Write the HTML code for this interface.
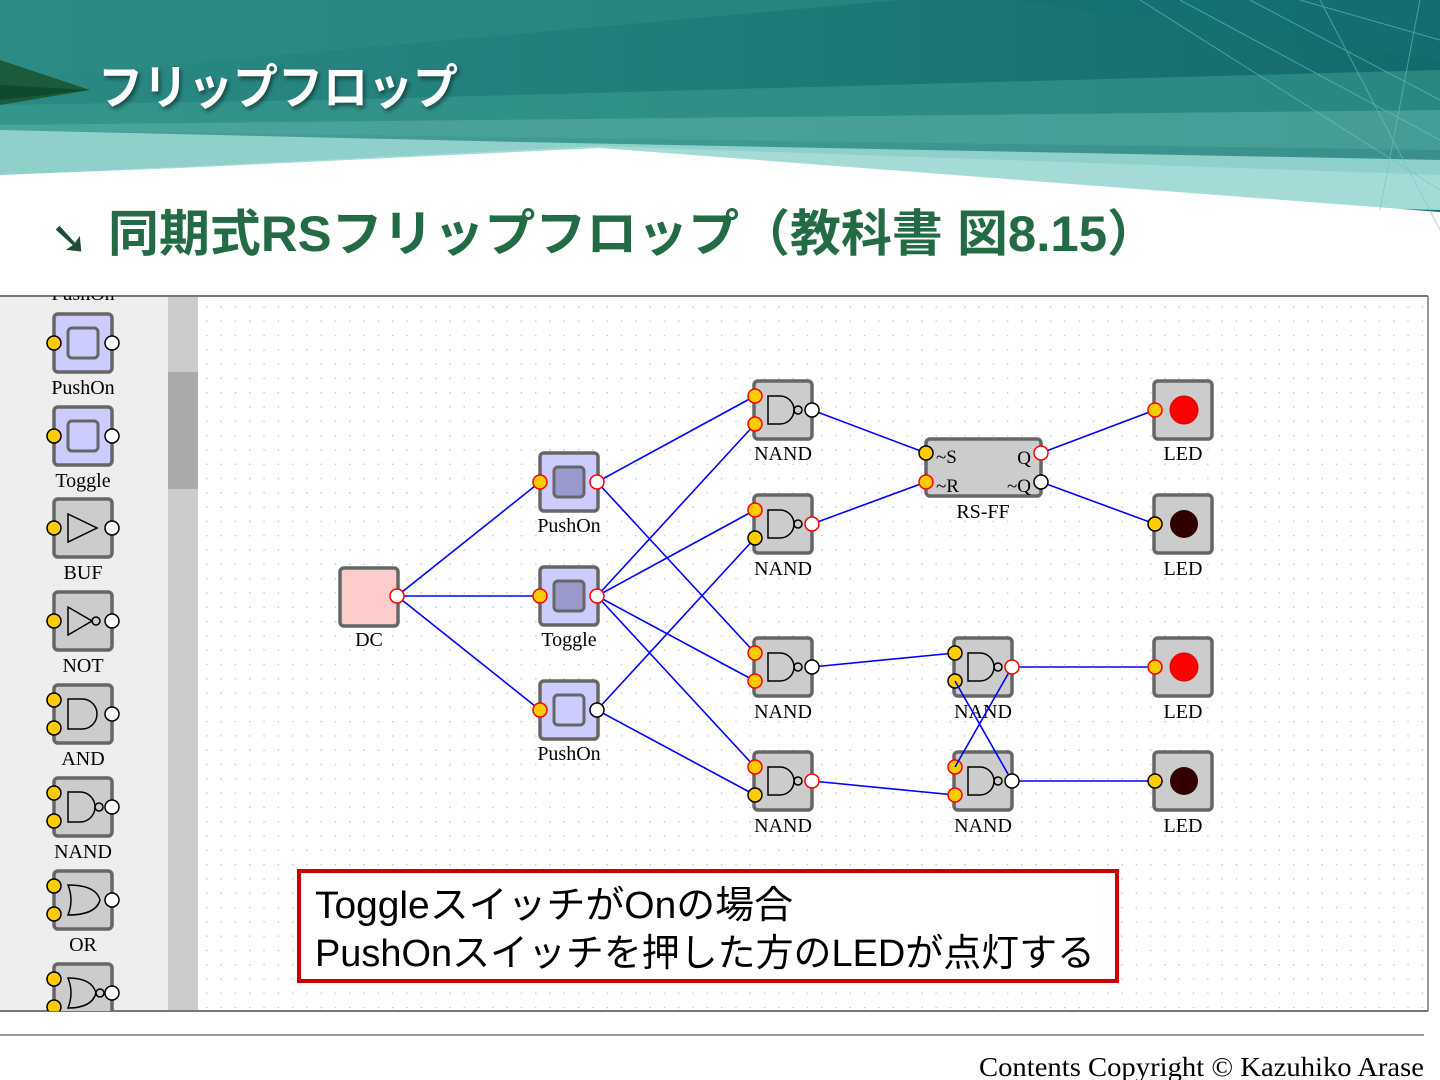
<!DOCTYPE html>
<html><head><meta charset="utf-8">
<style>
html,body{margin:0;padding:0;background:#fff;}
body{width:1440px;height:1080px;overflow:hidden;position:relative;}
svg text{font-family:"Liberation Serif",serif;}
.lbl{font-size:20px;text-anchor:middle;fill:#000;}
.box{fill:#ccc;stroke:#666;stroke-width:3.5;}
.sw{fill:#ccf;stroke:#666;stroke-width:3.5;}
.in{fill:#fc0;stroke:#000;stroke-width:1.5;}
.inr{fill:#fc0;stroke:#f00;stroke-width:1.5;}
.out{fill:#fff;stroke:#000;stroke-width:1.5;}
.outr{fill:#fff;stroke:#f00;stroke-width:1.5;}
.g{fill:none;stroke:#000;stroke-width:1.5;}
.w{stroke:#00f;stroke-width:1.6;fill:none;}
circle.in,circle.inr,circle.out,circle.outr{r:7px;}
</style></head><body>
<svg width="1440" height="1080" viewBox="0 0 1440 1080" xmlns="http://www.w3.org/2000/svg" style="position:absolute;left:0;top:0">
<defs>
<pattern id="dots" x="0" y="0" width="14.3" height="14.3" patternUnits="userSpaceOnUse">
<rect x="6" y="6" width="1.3" height="1.3" fill="#bbb"/>
</pattern>
<linearGradient id="hg" x1="0" y1="0" x2="1" y2="0">
<stop offset="0" stop-color="#2c8a84"/><stop offset="0.5" stop-color="#1f7c78"/><stop offset="1" stop-color="#136a6c"/>
</linearGradient>
</defs>
<rect x="0" y="0" width="1440" height="215" fill="url(#hg)"/>
<polygon points="0,0 900,0 0,80" fill="#2d8c86" opacity="0.6"/>
<polygon points="560,0 1010,0 1440,60 1440,0" fill="#137072" opacity="0.5"/>
<polygon points="0,105 330,100 1440,70 1440,150 0,130" fill="#3d9e92" opacity="0.55"/>
<polygon points="0,125 1440,110 1440,175 0,175" fill="#5fb3ab" opacity="0.5"/>
<polygon points="0,130 520,142 1440,160 1440,200 0,175" fill="#8fd0ca"/>
<polygon points="0,175 200,166 600,146 1440,175 1440,210" fill="#a4dbd7"/>
<polygon points="0,175 180,168 600,148 1440,212 1440,300 0,300" fill="#fff"/>
<polygon points="0,60 90,90 0,105" fill="#1c5a3c"/>
<polygon points="0,85 90,90 0,100" fill="#0f4a2c"/>
<g stroke="#6ec4c0" stroke-width="1" opacity="0.6">
<line x1="1140" y1="0" x2="1440" y2="190"/><line x1="1180" y1="0" x2="1440" y2="140"/>
<line x1="1250" y1="0" x2="1440" y2="100"/><line x1="1320" y1="0" x2="1440" y2="230"/>
<line x1="1420" y1="0" x2="1380" y2="210"/><line x1="1440" y1="40" x2="1300" y2="0"/>
</g>
<text x="98" y="104" font-size="48" font-weight="bold" fill="#fff" textLength="360" lengthAdjust="spacingAndGlyphs" style="font-family:'Noto Sans CJK JP',sans-serif;filter:drop-shadow(2px 3px 2px rgba(0,0,0,.45))">フリップフロップ</text>
<text x="50" y="254" font-size="46" font-weight="bold" fill="#1e4d35" style="font-family:'DejaVu Sans',sans-serif">➘</text>
<text x="108" y="251" font-size="50" font-weight="bold" fill="#236b45" style="font-family:'Liberation Sans','Noto Sans CJK JP',sans-serif" textLength="1050" lengthAdjust="spacingAndGlyphs">同期式RSフリップフロップ（教科書 図8.15）</text>

<rect x="0" y="296" width="1428" height="715" fill="#fff"/>
<rect x="198" y="296" width="1230" height="715" fill="url(#dots)"/>
<rect x="0" y="296" width="168" height="715" fill="#eee"/>
<rect x="168" y="296" width="30" height="715" fill="#ccc"/>
<rect x="168" y="372" width="30" height="117" fill="#aaa"/>
<line x1="0" y1="296" x2="1428" y2="296" stroke="#777" stroke-width="2"/>
<line x1="0" y1="1011" x2="1428" y2="1011" stroke="#777" stroke-width="2"/>
<line x1="1428" y1="296" x2="1428" y2="1011" stroke="#777" stroke-width="1.5"/>

<svg x="0" y="296" width="168" height="715" overflow="hidden">
<g transform="translate(0,-296)">
<text class="lbl" x="83" y="300">PushOn</text>
<rect class="sw" x="54" y="314" width="58" height="58" rx="4"/><rect x="68" y="328" width="30" height="30" rx="4" fill="#ccf" stroke="#666" stroke-width="3"/>
<circle class="in" cx="54" cy="343" r="7"/><circle class="out" cx="112" cy="343" r="7"/>
<text class="lbl" x="83" y="394">PushOn</text>
<rect class="sw" x="54" y="407" width="58" height="58" rx="4"/><rect x="68" y="421" width="30" height="30" rx="4" fill="#ccf" stroke="#666" stroke-width="3"/>
<circle class="in" cx="54" cy="436" r="7"/><circle class="out" cx="112" cy="436" r="7"/>
<text class="lbl" x="83" y="487">Toggle</text>
<rect class="box" x="54" y="499" width="58" height="58" rx="4"/><path class="g" d="M68,514 L97,528 L68,542 Z"/>
<circle class="in" cx="54" cy="528" r="7"/><circle class="out" cx="112" cy="528" r="7"/>
<text class="lbl" x="83" y="579">BUF</text>
<rect class="box" x="54" y="592" width="58" height="58" rx="4"/><path class="g" d="M68,607 L92,621 L68,635 Z"/><circle class="g" cx="96" cy="621" r="4"/>
<circle class="in" cx="54" cy="621" r="7"/><circle class="out" cx="112" cy="621" r="7"/>
<text class="lbl" x="83" y="672">NOT</text>
<rect class="box" x="54" y="685" width="58" height="58" rx="4"/><path class="g" d="M68,699 h14 a15,15 0 0 1 0,30 h-14 z"/>
<circle class="in" cx="54" cy="700" r="7"/><circle class="in" cx="54" cy="728" r="7"/><circle class="out" cx="112" cy="714" r="7"/>
<text class="lbl" x="83" y="765">AND</text>
<rect class="box" x="54" y="778" width="58" height="58" rx="4"/><path class="g" d="M68,792 h12 a15,15 0 0 1 0,30 h-12 z"/><circle class="g" cx="99" cy="807" r="4"/>
<circle class="in" cx="54" cy="793" r="7"/><circle class="in" cx="54" cy="821" r="7"/><circle class="out" cx="112" cy="807" r="7"/>
<text class="lbl" x="83" y="858">NAND</text>
<rect class="box" x="54" y="871" width="58" height="58" rx="4"/><path class="g" d="M68,885 q28,0 32,15 q-4,15 -32,15 q6,-15 0,-30 z"/>
<circle class="in" cx="54" cy="886" r="7"/><circle class="in" cx="54" cy="914" r="7"/><circle class="out" cx="112" cy="900" r="7"/>
<text class="lbl" x="83" y="951">OR</text>
<rect class="box" x="54" y="964" width="58" height="58" rx="4"/><path class="g" d="M68,978 q24,0 28,15 q-4,15 -28,15 q6,-15 0,-30 z"/><circle class="g" cx="100" cy="993" r="4"/>
<circle class="in" cx="54" cy="979" r="7"/><circle class="in" cx="54" cy="1007" r="7"/><circle class="out" cx="112" cy="993" r="7"/>
</g>
</svg>

<g class="w">
<line x1="397" y1="596" x2="540" y2="482"/>
<line x1="397" y1="596" x2="540" y2="596"/>
<line x1="397" y1="596" x2="540" y2="710"/>
<line x1="597" y1="482" x2="755" y2="396"/>
<line x1="597" y1="482" x2="755" y2="653"/>
<line x1="597" y1="596" x2="755" y2="424"/>
<line x1="597" y1="596" x2="755" y2="510"/>
<line x1="597" y1="596" x2="755" y2="681"/>
<line x1="597" y1="596" x2="755" y2="767"/>
<line x1="597" y1="710" x2="755" y2="538"/>
<line x1="597" y1="710" x2="755" y2="795"/>
<line x1="812" y1="410" x2="926" y2="453"/>
<line x1="812" y1="524" x2="926" y2="482"/>
<line x1="1041" y1="453" x2="1155" y2="410"/>
<line x1="1041" y1="482" x2="1155" y2="524"/>
<line x1="812" y1="667" x2="955" y2="653"/>
<line x1="812" y1="781" x2="955" y2="795"/>
<line x1="1012" y1="667" x2="1155" y2="667"/>
<line x1="1012" y1="781" x2="1155" y2="781"/>
</g>

<rect x="340" y="568" width="58" height="58" rx="4" fill="#fcc" stroke="#666" stroke-width="3.5"/>
<circle class="outr" cx="397" cy="596" r="7"/>
<text class="lbl" x="369" y="646">DC</text>
<rect class="sw" x="540" y="453" width="58" height="58" rx="4"/><rect x="554" y="467" width="30" height="30" rx="4" fill="#99c" stroke="#666" stroke-width="3"/>
<circle class="inr" cx="540" cy="482" r="7"/><circle class="outr" cx="597" cy="482" r="7"/>
<text class="lbl" x="569" y="532">PushOn</text>
<rect class="sw" x="540" y="567" width="58" height="58" rx="4"/><rect x="554" y="581" width="30" height="30" rx="4" fill="#99c" stroke="#666" stroke-width="3"/>
<circle class="inr" cx="540" cy="596" r="7"/><circle class="outr" cx="597" cy="596" r="7"/>
<text class="lbl" x="569" y="646">Toggle</text>
<rect class="sw" x="540" y="681" width="58" height="58" rx="4"/><rect x="554" y="695" width="30" height="30" rx="4" fill="#ccf" stroke="#666" stroke-width="3"/>
<circle class="inr" cx="540" cy="710" r="7"/><circle class="out" cx="597" cy="710" r="7"/>
<text class="lbl" x="569" y="760">PushOn</text>

<rect class="box" x="754" y="381" width="58" height="58" rx="4"/><path class="g" d="M768,396 h12 a14,14 0 0 1 0,28 h-12 z"/><circle class="g" cx="798" cy="410" r="4"/>
<circle class="inr" cx="755" cy="396" r="7"/><circle class="inr" cx="755" cy="424" r="7"/><circle class="out" cx="812" cy="410" r="7"/>
<text class="lbl" x="783" y="460">NAND</text>
<rect class="box" x="754" y="495" width="58" height="58" rx="4"/><path class="g" d="M768,510 h12 a14,14 0 0 1 0,28 h-12 z"/><circle class="g" cx="798" cy="524" r="4"/>
<circle class="inr" cx="755" cy="510" r="7"/><circle class="in" cx="755" cy="538" r="7"/><circle class="outr" cx="812" cy="524" r="7"/>
<text class="lbl" x="783" y="575">NAND</text>
<rect class="box" x="754" y="638" width="58" height="58" rx="4"/><path class="g" d="M768,653 h12 a14,14 0 0 1 0,28 h-12 z"/><circle class="g" cx="798" cy="667" r="4"/>
<circle class="inr" cx="755" cy="653" r="7"/><circle class="inr" cx="755" cy="681" r="7"/><circle class="out" cx="812" cy="667" r="7"/>
<text class="lbl" x="783" y="718">NAND</text>
<rect class="box" x="754" y="752" width="58" height="58" rx="4"/><path class="g" d="M768,767 h12 a14,14 0 0 1 0,28 h-12 z"/><circle class="g" cx="798" cy="781" r="4"/>
<circle class="inr" cx="755" cy="767" r="7"/><circle class="in" cx="755" cy="795" r="7"/><circle class="outr" cx="812" cy="781" r="7"/>
<text class="lbl" x="783" y="832">NAND</text>

<rect class="box" x="954" y="638" width="58" height="58" rx="4"/><path class="g" d="M968,653 h12 a14,14 0 0 1 0,28 h-12 z"/><circle class="g" cx="998" cy="667" r="4"/>
<circle class="in" cx="955" cy="653" r="7"/><circle class="in" cx="955" cy="681" r="7"/>
<rect class="box" x="954" y="752" width="58" height="58" rx="4"/><path class="g" d="M968,767 h12 a14,14 0 0 1 0,28 h-12 z"/><circle class="g" cx="998" cy="781" r="4"/>
<circle class="inr" cx="955" cy="767" r="7"/><circle class="inr" cx="955" cy="795" r="7"/>
<text class="lbl" x="983" y="718">NAND</text>
<text class="lbl" x="983" y="832">NAND</text>
<g class="w"><line x1="1012" y1="667" x2="955" y2="767"/><line x1="1012" y1="781" x2="955" y2="681"/></g>
<circle class="outr" cx="1012" cy="667" r="7"/><circle class="out" cx="1012" cy="781" r="7"/>

<rect class="box" x="926" y="439" width="115" height="57" rx="4"/>
<circle class="in" cx="926" cy="453" r="7"/><circle class="inr" cx="926" cy="482" r="7"/>
<circle class="outr" cx="1041" cy="453" r="7"/><circle class="out" cx="1041" cy="482" r="7"/>
<text x="936" y="463" font-size="19">~S</text><text x="936" y="492" font-size="19">~R</text>
<text x="1031" y="464" font-size="19" text-anchor="end">Q</text><text x="1031" y="492" font-size="19" text-anchor="end">~Q</text>
<text class="lbl" x="983" y="518">RS-FF</text>

<rect class="box" x="1154" y="381" width="58" height="58" rx="4"/><circle cx="1184" cy="410" r="14" fill="#f00" stroke="#d00" stroke-width="1"/>
<circle class="inr" cx="1155" cy="410" r="7"/><text class="lbl" x="1183" y="460">LED</text>
<rect class="box" x="1154" y="495" width="58" height="58" rx="4"/><circle cx="1184" cy="524" r="14" fill="#300"/>
<circle class="in" cx="1155" cy="524" r="7"/><text class="lbl" x="1183" y="575">LED</text>
<rect class="box" x="1154" y="638" width="58" height="58" rx="4"/><circle cx="1184" cy="667" r="14" fill="#f00" stroke="#d00" stroke-width="1"/>
<circle class="inr" cx="1155" cy="667" r="7"/><text class="lbl" x="1183" y="718">LED</text>
<rect class="box" x="1154" y="752" width="58" height="58" rx="4"/><circle cx="1184" cy="781" r="14" fill="#300"/>
<circle class="in" cx="1155" cy="781" r="7"/><text class="lbl" x="1183" y="832">LED</text>

<rect x="299" y="871" width="818" height="110" fill="#fff" stroke="#c00" stroke-width="4"/>
<text x="315" y="918" font-size="38" style="font-family:'Liberation Sans','Noto Sans CJK JP',sans-serif" textLength="478" lengthAdjust="spacingAndGlyphs">ToggleスイッチがOnの場合</text>
<text x="315" y="966" font-size="38" style="font-family:'Liberation Sans','Noto Sans CJK JP',sans-serif" textLength="780" lengthAdjust="spacingAndGlyphs">PushOnスイッチを押した方のLEDが点灯する</text>

<line x1="0" y1="1035" x2="1424" y2="1035" stroke="#999" stroke-width="2"/>
<text x="1424" y="1076" font-size="27" text-anchor="end" textLength="445" lengthAdjust="spacingAndGlyphs">Contents Copyright © Kazuhiko Arase</text>
</svg>
</body></html>
